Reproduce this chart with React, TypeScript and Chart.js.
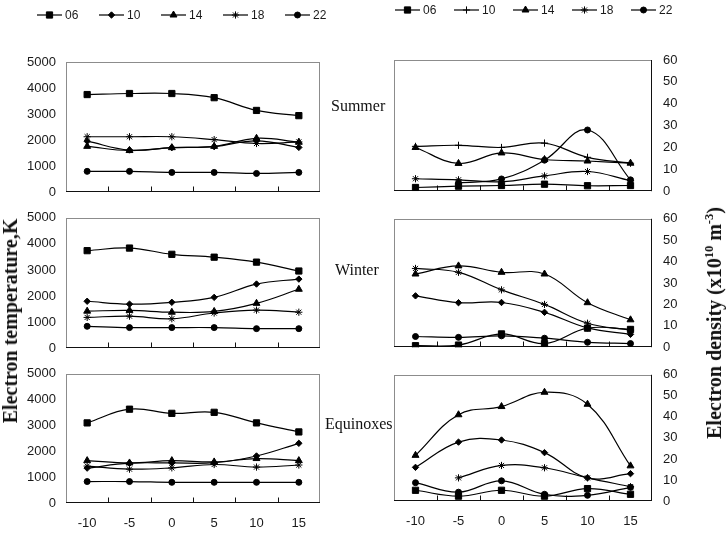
import React, { useEffect, useRef } from 'react';
import { Chart, registerables } from 'chart.js';
import { drawPoint } from 'chart.js/helpers';

Chart.register(...registerables);

// Geomagnetic latitude bins (degrees) and local-time groups
const latitudes = ['-10', '-5', '0', '5', '10', '15'];
const hours = ['06', '10', '14', '18', '22'];

const teTicks = [0, 1000, 2000, 3000, 4000, 5000];
const neTicks = [0, 10, 20, 30, 40, 50, 60];

// Electron temperature, K
const teSummer06 = [3750, 3790, 3790, 3630, 3140, 2940];
const teSummer10 = [1960, 1620, 1710, 1750, 1970, 1720];
const teSummer14 = [1760, 1600, 1710, 1760, 2070, 1920];
const teSummer18 = [2130, 2130, 2130, 2020, 1870, 1930];
const teSummer22 = [800, 800, 760, 760, 720, 760];

const teWinter06 = [3740, 3840, 3600, 3490, 3300, 2960];
const teWinter10 = [1800, 1690, 1760, 1950, 2460, 2650];
const teWinter14 = [1420, 1450, 1380, 1410, 1720, 2260];
const teWinter18 = [1180, 1230, 1130, 1350, 1460, 1380];
const teWinter22 = [840, 790, 790, 790, 750, 750];

const teEquinox06 = [3100, 3630, 3470, 3510, 3100, 2750];
const teEquinox10 = [1350, 1540, 1550, 1560, 1820, 2310];
const teEquinox14 = [1640, 1550, 1640, 1590, 1720, 1640];
const teEquinox18 = [1430, 1310, 1360, 1490, 1390, 1470];
const teEquinox22 = [830, 830, 800, 800, 800, 800];

// Electron density, x10^10 m^-3
const neSummer06 = [1.7, 2.3, 2.6, 3.2, 2.5, 2.6];
const neSummer10 = [20.5, 21, 20, 22, 15.5, 12.8];
const neSummer14 = [20, 12.7, 17.5, 14.5, 13.8, 12.8];
const neSummer18 = [5.7, 5.2, 4.3, 7, 9, 4.8];
const neSummer22 = [null, 3.8, 5.6, 14.2, 28, 5.2];

const neWinter06 = [0.7, 1.0, 6.2, 1.7, 8.9, 8.3];
const neWinter10 = [24, 20.8, 20.9, 16.3, 9, 6];
const neWinter14 = [34.2, 38, 35, 34.2, 20.8, 12.8];
const neWinter18 = [36.8, 35, 26.8, 20, 11.2, 8];
const neWinter22 = [5.0, 4.6, 5.3, 4.2, 2.3, 1.7];

const neEquinox06 = [5.1, 2.3, 5.1, 2.3, 5.9, 3.2];
const neEquinox10 = [16, 28, 29, 23, 11, 13];
const neEquinox14 = [21.7, 41, 44.9, 51.7, 46, 16.7];
const neEquinox18 = [null, 11, 16.9, 15.8, 11, 6.8];
const neEquinox22 = [8.7, 4.2, 9.6, 3.2, 2.7, 6.5];

const markerRadius: Record<string, number> = {
  rect: 4.4,
  rectRot: 3.2,
  triangle: 4,
  star: 3.6,
  cross: 3.6,
  circle: 3,
};

const leftMarkers = ['rect', 'rectRot', 'triangle', 'star', 'circle'];
const rightSummerMarkers = ['rect', 'cross', 'triangle', 'star', 'circle'];
const rightMarkers = ['rect', 'rectRot', 'triangle', 'star', 'circle'];

const tickFont = { family: '"Liberation Sans", Arial, sans-serif', size: 13 };
const tickColor = '#1a1a1a';

// Plot frame with the category tick marks pointing into the plot
const framePlugin = {
  id: 'panelFrame',
  beforeDatasetsDraw(chart: any, _args: any, opts: any) {
    const { ctx, chartArea } = chart;
    const { left, top, right, bottom } = chartArea;
    ctx.save();
    ctx.lineWidth = 1;
    ctx.strokeStyle = '#8c8c8c';
    ctx.strokeRect(Math.round(left) + 0.5, Math.round(top) + 0.5, Math.round(right - left) - 1, Math.round(bottom - top) - 1);
    ctx.strokeStyle = '#111';
    ctx.beginPath();
    const yb = Math.round(bottom) - 0.5;
    ctx.moveTo(left, yb);
    ctx.lineTo(right, yb);
    if (opts.axisRight) {
      const xr = Math.round(right) - 0.5;
      ctx.moveTo(xr, top);
      ctx.lineTo(xr, bottom);
    }
    const xs = chart.scales.x;
    const n = chart.data.labels.length;
    for (let i = 1; i < n; i++) {
      const px = Math.round((xs.getPixelForValue(i - 1) + xs.getPixelForValue(i)) / 2) + 0.5;
      ctx.moveTo(px, yb);
      ctx.lineTo(px, yb - 5);
    }
    ctx.stroke();
    ctx.restore();
  },
};

// Legend drawn as a line segment with the series marker, above the plot
const lineLegendPlugin = {
  id: 'lineLegend',
  afterDraw(chart: any, _args: any, opts: any) {
    if (!opts || !opts.display) return;
    const ctx = chart.ctx;
    ctx.save();
    ctx.font = '12px "Liberation Sans", Arial, sans-serif';
    ctx.textBaseline = 'middle';
    ctx.textAlign = 'left';
    chart.data.datasets.forEach((ds: any, i: number) => {
      const x0 = opts.x + i * opts.pitch;
      const y = opts.y;
      ctx.strokeStyle = '#000';
      ctx.fillStyle = '#000';
      ctx.lineWidth = 1.2;
      ctx.beginPath();
      ctx.moveTo(x0, y);
      ctx.lineTo(x0 + opts.lineLength, y);
      ctx.stroke();
      ctx.lineWidth = 1;
      drawPoint(ctx, { pointStyle: ds.pointStyle, radius: ds.pointRadius, rotation: 0, borderWidth: 1 }, x0 + opts.lineLength / 2, y);
      ctx.fillStyle = '#1a1a1a';
      ctx.fillText(ds.label, x0 + opts.lineLength + 3, y + 0.5);
    });
    ctx.restore();
  },
};

type Panel = {
  key: string;
  left: number;
  top: number;
  width: number;
  height: number;
  padding: { top: number; bottom: number; left: number; right: number };
  series: (number | null)[][];
  markers: string[];
  side: 'left' | 'right';
  max: number;
  showX: boolean;
  legend?: { x: number; y: number; pitch: number; lineLength: number };
};

const panels: Panel[] = [
  {
    key: 'te-summer', left: 0, top: 0, width: 340, height: 210,
    padding: { top: 62, bottom: 15, left: 18, right: 20 },
    series: [teSummer06, teSummer10, teSummer14, teSummer18, teSummer22],
    markers: leftMarkers, side: 'left', max: 5000, showX: false,
    legend: { x: 37, y: 15, pitch: 62, lineLength: 25 },
  },
  {
    key: 'te-winter', left: 0, top: 200, width: 340, height: 166,
    padding: { top: 12, bottom: 15, left: 18, right: 20 },
    series: [teWinter06, teWinter10, teWinter14, teWinter18, teWinter22],
    markers: leftMarkers, side: 'left', max: 5000, showX: false,
  },
  {
    key: 'te-equinox', left: 0, top: 356, width: 340, height: 178,
    padding: { top: 14, bottom: 6, left: 18, right: 20 },
    series: [teEquinox06, teEquinox10, teEquinox14, teEquinox18, teEquinox22],
    markers: leftMarkers, side: 'left', max: 5000, showX: true,
  },
  {
    key: 'ne-summer', left: 340, top: 0, width: 380, height: 210,
    padding: { top: 60, bottom: 16, left: 54, right: 20 },
    series: [neSummer06, neSummer10, neSummer14, neSummer18, neSummer22],
    markers: rightSummerMarkers, side: 'right', max: 60, showX: false,
    legend: { x: 55, y: 10, pitch: 59, lineLength: 25 },
  },
  {
    key: 'ne-winter', left: 340, top: 200, width: 380, height: 166,
    padding: { top: 12, bottom: 15, left: 54, right: 20 },
    series: [neWinter06, neWinter10, neWinter14, neWinter18, neWinter22],
    markers: rightMarkers, side: 'right', max: 60, showX: false,
  },
  {
    key: 'ne-equinox', left: 340, top: 356, width: 380, height: 178,
    padding: { top: 12, bottom: 8, left: 54, right: 20 },
    series: [neEquinox06, neEquinox10, neEquinox14, neEquinox18, neEquinox22],
    markers: rightMarkers, side: 'right', max: 60, showX: true,
  },
];

function buildConfig(p: Panel): any {
  return {
    type: 'line',
    data: {
      labels: latitudes,
      datasets: p.series.map((vals, i) => ({
        label: hours[i],
        data: vals,
        borderColor: '#000',
        backgroundColor: '#000',
        borderWidth: 1.2,
        pointStyle: p.markers[i],
        pointRadius: markerRadius[p.markers[i]],
        pointBorderWidth: 1,
        pointBackgroundColor: '#000',
        pointBorderColor: '#000',
        tension: 0.4,
        fill: false,
        spanGaps: false,
      })),
    },
    options: {
      responsive: false,
      maintainAspectRatio: false,
      animation: false,
      events: [],
      layout: { padding: p.padding },
      plugins: {
        legend: { display: false },
        tooltip: { enabled: false },
        lineLegend: p.legend ? { display: true, ...p.legend } : { display: false },
        panelFrame: { axisRight: p.side === 'right' },
      },
      scales: {
        x: {
          type: 'category',
          offset: true,
          display: p.showX,
          grid: { display: false, drawTicks: false },
          border: { display: false },
          ticks: { padding: 13, font: tickFont, color: tickColor, maxRotation: 0, autoSkip: false },
          afterFit: (s: any) => { s.height = p.showX ? 25 : 0; },
        },
        y: {
          position: p.side,
          min: 0,
          max: p.max,
          grid: { display: false, drawTicks: false },
          border: { display: false },
          afterBuildTicks: (s: any) => {
            s.ticks = (p.side === 'left' ? teTicks : neTicks).map((v) => ({ value: v }));
          },
          ticks: {
            padding: p.side === 'left' ? 10 : 11,
            font: tickFont,
            color: tickColor,
            callback: (v: any) => String(v),
          },
          afterFit: (s: any) => { s.width = 48; },
        },
      },
    },
    plugins: [framePlugin, lineLegendPlugin],
  };
}

function PanelChart({ p }: { p: Panel }) {
  const ref = useRef<HTMLCanvasElement | null>(null);
  useEffect(() => {
    if (!ref.current) return;
    const chart = new Chart(ref.current, buildConfig(p));
    return () => chart.destroy();
  }, [p]);
  return (
    <canvas
      ref={ref}
      width={p.width}
      height={p.height}
      style={{ position: 'absolute', left: p.left, top: p.top, width: p.width, height: p.height, display: 'block' }}
    />
  );
}

const serif = '"Liberation Serif", "Times New Roman", serif';

const seasonStyle: React.CSSProperties = {
  position: 'absolute',
  fontFamily: serif,
  fontSize: 16,
  lineHeight: '16px',
  color: '#111',
  whiteSpace: 'nowrap',
};

const titleStyle: React.CSSProperties = {
  position: 'absolute',
  fontFamily: serif,
  fontWeight: 'bold',
  fontSize: 20,
  lineHeight: '20px',
  color: '#111',
  whiteSpace: 'nowrap',
  transform: 'translate(-50%, -50%) rotate(-90deg)',
};

const supStyle: React.CSSProperties = { fontSize: '0.62em', verticalAlign: 'super', lineHeight: 0 };

export default function App() {
  return (
    <div style={{ position: 'absolute', left: 0, top: 0, width: 726, height: 534, background: '#fff', overflow: 'hidden' }}>
      {panels.map((p) => (
        <PanelChart key={p.key} p={p} />
      ))}
      <div style={{ ...seasonStyle, left: 331, top: 98 }}>Summer</div>
      <div style={{ ...seasonStyle, left: 335, top: 262 }}>Winter</div>
      <div style={{ ...seasonStyle, left: 325, top: 416 }}>Equinoxes</div>
      <div style={{ ...titleStyle, left: 10, top: 321 }}>Electron temperature,K</div>
      <div style={{ ...titleStyle, left: 714, top: 323 }}>
        Electron density (x10<sup style={supStyle}>10</sup> m<sup style={supStyle}>-3</sup>)
      </div>
    </div>
  );
}
